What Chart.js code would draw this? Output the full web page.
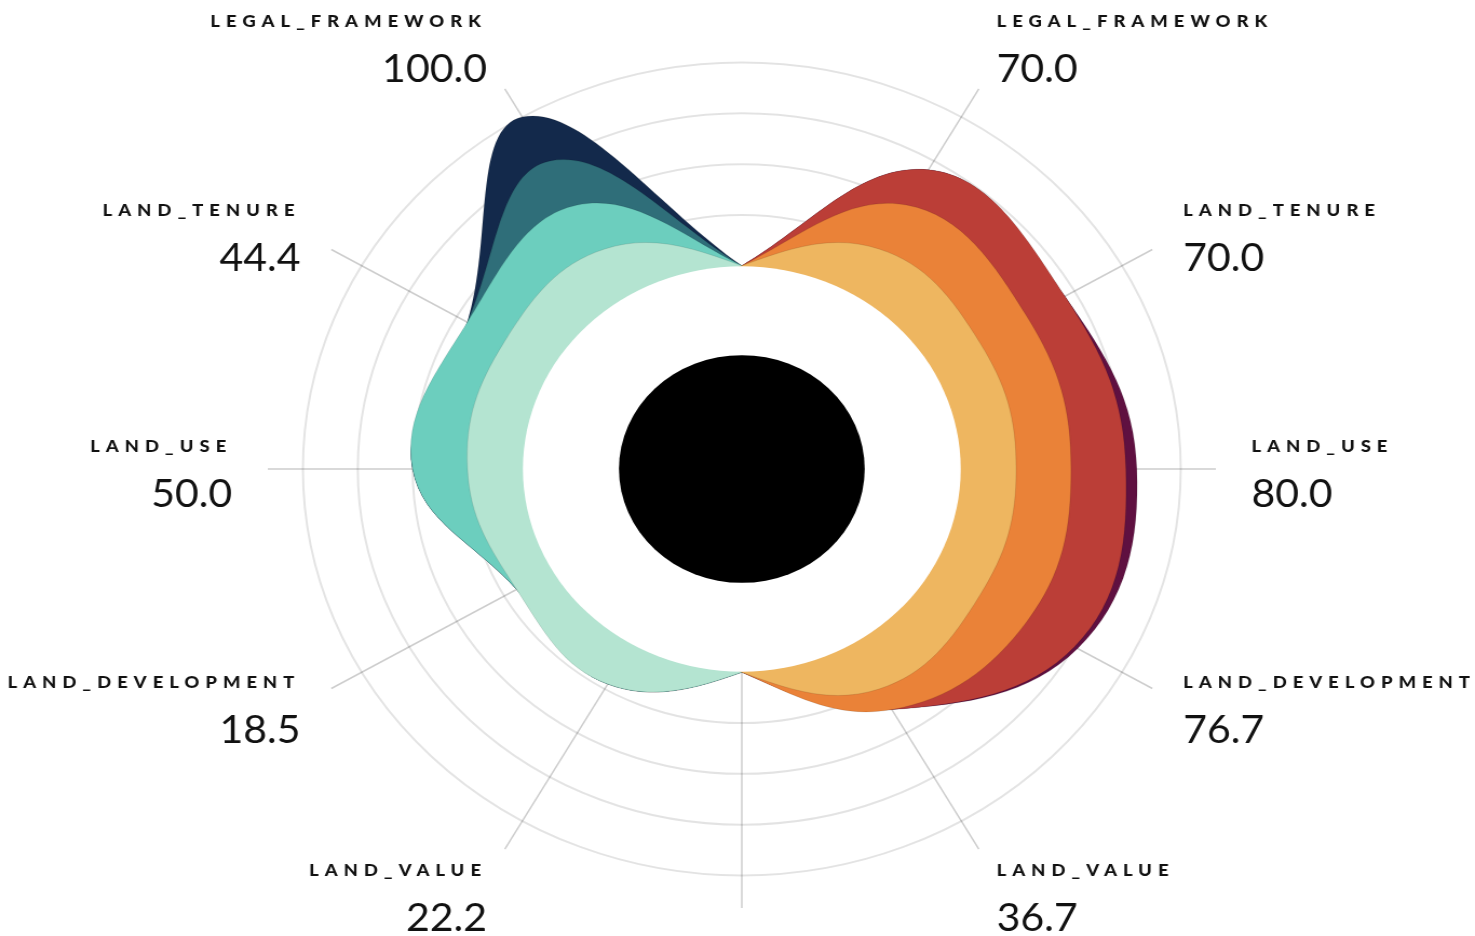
<!DOCTYPE html>
<html>
<head>
<meta charset="utf-8">
<script src="https://cdn.jsdelivr.net/npm/chart.js@4.4.1/dist/chart.umd.min.js"></script>
<style>
html,body{margin:0;padding:0;background:#fff;overflow:hidden}
</style>
</head>
<body>
<canvas id="radar" width="1366" height="936" style="display:block;width:1475px;height:936px"></canvas>
<script>
// categories, clockwise from the top on the right half, mirrored on the left half
const categories = ['LEGAL_FRAMEWORK', 'LAND_TENURE', 'LAND_USE', 'LAND_DEVELOPMENT', 'LAND_VALUE']

// right half (orange palette)
const rightScores = [70.0, 70.0, 80.0, 76.7, 36.7]
const rightBand1 = [25, 25, 25, 25, 25]
const rightBand2 = [50, 50, 50, 50, 36.7]
const rightBand3 = [70, 70, 75, 75, 36.7]
const rightBand4 = [70, 70, 80, 76.7, 36.7]

// left half (teal palette)
const leftScores = [100.0, 44.4, 50.0, 18.5, 22.2]
const leftBand1 = [25, 25, 25, 18.5, 22.2]
const leftBand2 = [50, 44.4, 50, 18.5, 22.2]
const leftBand3 = [75, 44.4, 50, 18.5, 22.2]
const leftBand4 = [100, 44.4, 50, 18.5, 22.2]

const gridTicks = [0, 25, 50, 75, 100]
const joinValue = 0      // top and bottom spokes, where both halves meet
const hiddenValue = -22  // the other half, tucked under the white hole

const rightColors = ['#eeb660', '#ea8238', '#bb3e37', '#5f1040']
const leftColors = ['#b4e4d1', '#6ccebe', '#2f6e79', '#13294b']

// 12 spokes: 0 = top, 1..5 right half, 6 = bottom, 7..11 left half (bottom to top)
let axisNames = ['', ...categories, '', ...categories.slice().reverse()]
let axisScores = [null, ...rightScores, null, ...leftScores.slice().reverse()]

function rightRow(vals) {
  return [joinValue, ...vals, joinValue, hiddenValue, hiddenValue, hiddenValue, hiddenValue, hiddenValue]
}
function leftRow(vals) {
  return [joinValue, hiddenValue, hiddenValue, hiddenValue, hiddenValue, hiddenValue, joinValue, ...vals.slice().reverse()]
}

function band(data, color) {
  return {
    data: data,
    backgroundColor: color,
    borderColor: 'rgba(0,0,0,0.10)',
    borderWidth: 1,
    fill: 'start',
    pointRadius: 0
  }
}

const datasets = [//first one ends up on top
  band(rightRow(rightBand1), rightColors[0]),
  band(leftRow(leftBand1), leftColors[0]),
  band(rightRow(rightBand2), rightColors[1]),
  band(leftRow(leftBand2), leftColors[1]),
  band(rightRow(rightBand3), rightColors[2]),
  band(leftRow(leftBand3), leftColors[2]),
  band(rightRow(rightBand4), rightColors[3]),
  band(leftRow(leftBand4), leftColors[3])
]

const holePlugin = {
  id: 'hole',
  afterDraw(chart) {
    const r = chart.scales.r
    const ctx = chart.ctx
    ctx.save()
    // white hole + black dot
    ctx.fillStyle = '#fff'
    ctx.beginPath()
    ctx.arc(r.xCenter, r.yCenter, r.getDistanceFromCenterForValue(0) - 0.5, 0, Math.PI * 2)
    ctx.fill()
    ctx.fillStyle = '#000'
    ctx.beginPath()
    ctx.arc(r.xCenter, r.yCenter, r.getDistanceFromCenterForValue(-44), 0, Math.PI * 2)
    ctx.fill()

    // labels: name on top, score under it
    ctx.fillStyle = '#111'
    for (let i = 0; i < axisNames.length; i++) {
      if (!axisNames[i]) continue
      const p = r.getPointPosition(i, r.drawingArea + 33)
      const c = Math.cos(p.angle)
      const s = Math.sin(p.angle)
      let shift = Math.abs(s) > 0.8 ? 16 * Math.sign(s) : 0
      ctx.textAlign = c > 0 ? 'left' : 'right'
      ctx.textBaseline = 'alphabetic'

      ctx.font = '900 17px Lato'
      ctx.letterSpacing = '5.6px'
      ctx.fillText(axisNames[i], p.x, p.y + shift - 24 + 6.5)

      ctx.font = '38px Lato'
      ctx.letterSpacing = '0px'
      ctx.fillText(axisScores[i].toFixed(1), p.x, p.y + shift + 24 + 13.5)
    }
    ctx.restore()
  }
}

const radar = new Chart(document.getElementById('radar'), {
  type: 'radar',
  data: { labels: axisNames, datasets: datasets },
  options: {
    responsive: false,
    animation: false,
    layout: { padding: { left: 248, right: 240, top: 30, bottom: 28 } },
    elements: { line: { tension: 0.4 } },
    plugins: { legend: { display: false }, tooltip: { enabled: false } },
    scales: {
      r: {
        min: -100,
        max: 116,
        z: 1,
        afterBuildTicks: (scale) => {
          scale.ticks = scale.ticks.filter(t => gridTicks.includes(t.value))
        },
        ticks: { display: false, stepSize: 25 },
        pointLabels: { display: false },
        grid: { circular: true, color: 'rgba(0,0,0,0.11)', lineWidth: 2 },
        angleLines: {
          color: (ctx) => ctx.index === 0 ? 'rgba(0,0,0,0)' : 'rgba(0,0,0,0.2)',
          lineWidth: 1.5
        }
      }
    }
  },
  plugins: [holePlugin]
})
</script>
</body>
</html>
